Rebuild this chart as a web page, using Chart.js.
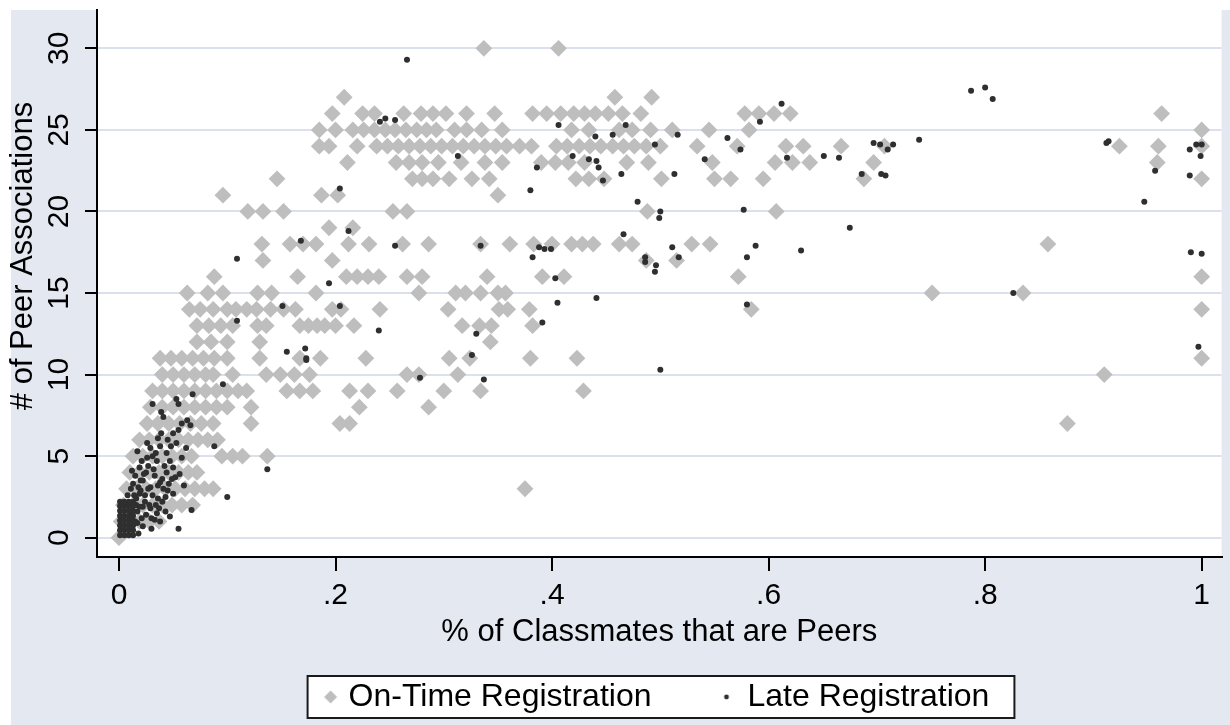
<!DOCTYPE html>
<html>
<head>
<meta charset="utf-8">
<script src="https://cdn.jsdelivr.net/npm/chart.js@4/dist/chart.umd.min.js"></script>
<style>
  html, body { margin: 0; padding: 0; background: #ffffff; }
  #wrap { position: absolute; left: 0; top: 0; width: 1230px; height: 725px; }
</style>
</head>
<body>
<div id="wrap"><canvas id="chart" width="1230" height="725"></canvas></div>
<script>
// ---------------- data ----------------
const xTicks = [0, 0.2, 0.4, 0.6, 0.8, 1];
const xTickLabels = ['0', '.2', '.4', '.6', '.8', '1'];
const yTicks = [0, 5, 10, 15, 20, 25, 30];
const seriesNames = ['On-Time Registration', 'Late Registration'];
const xTitle = '% of Classmates that are Peers';
const yTitle = '# of Peer Associations';

// On-time registration: [share of classmates, # peer associations]
const onTime = [
  [.337,30],[.406,30],
  [.208,27],[.458,27],[.492,27],
  [.197,26],[.225,26],[.236,26],[.263,26],[.279,26],[.29,26],[.302,26],[.321,26],[.347,26],[.382,26],[.395,26],[.408,26],[.42,26],[.43,26],[.44,26],[.452,26],[.465,26],[.482,26],[.578,26],[.591,26],[.605,26],[.62,26],[.963,26],
  [.185,25],[.2,25],[.216,25],[.226,25],[.236,25],[.246,25],[.255,25],[.265,25],[.275,25],[.284,25],[.293,25],[.31,25],[.321,25],[.335,25],[.354,25],[.418,25],[.434,25],[.462,25],[.474,25],[.491,25],[.511,25],[.545,25],[.582,25],[1.0,25],
  [.185,24],[.194,24],[.22,24],[.238,24],[.248,24],[.258,24],[.268,24],[.278,24],[.288,24],[.298,24],[.308,24],[.318,24],[.328,24],[.338,24],[.348,24],[.358,24],[.37,24],[.381,24],[.404,24],[.414,24],[.425,24],[.435,24],[.445,24],[.456,24],[.466,24],[.476,24],[.487,24],[.5,24],[.534,24],[.571,24],[.616,24],[.632,24],[.667,24],[.707,24],[.924,24],[.96,24],[1.0,24],
  [.211,23],[.256,23],[.268,23],[.28,23],[.295,23],[.316,23],[.338,23],[.354,23],[.39,23],[.403,23],[.415,23],[.43,23],[.469,23],[.489,23],[.548,23],[.606,23],[.622,23],[.638,23],[.697,23],[.959,23],
  [.146,22],[.271,22],[.28,22],[.29,22],[.305,22],[.326,22],[.342,22],[.422,22],[.434,22],[.448,22],[.501,22],[.55,22],[.565,22],[.595,22],[.688,22],[1.0,22],
  [.096,21],[.187,21],[.202,21],[.35,21],
  [.119,20],[.133,20],[.152,20],[.253,20],[.266,20],[.488,20],[.607,20],
  [.194,19],[.216,19],
  [.132,18],[.158,18],[.17,18],[.182,18],[.212,18],[.231,18],[.262,18],[.286,18],[.334,18],[.361,18],[.383,18],[.4,18],[.418,18],[.428,18],[.438,18],[.462,18],[.474,18],[.529,18],[.546,18],[.858,18],
  [.133,17],[.197,17],[.487,17],[.515,17],
  [.088,16],[.165,16],[.21,16],[.22,16],[.23,16],[.24,16],[.266,16],[.28,16],[.34,16],[.391,16],[.411,16],[.572,16],[1.0,16],
  [.063,15],[.082,15],[.096,15],[.128,15],[.141,15],[.182,15],[.277,15],[.311,15],[.32,15],[.334,15],[.35,15],[.357,15],[.751,15],[.835,15],
  [.065,14],[.075,14],[.087,14],[.1,14],[.108,14],[.118,14],[.127,14],[.14,14],[.152,14],[.163,14],[.197,14],[.205,14],[.241,14],[.304,14],[.351,14],[.359,14],[.379,14],[.584,14],[1.0,14],
  [.072,13],[.083,13],[.094,13],[.105,13],[.128,13],[.136,13],[.167,13],[.175,13],[.183,13],[.19,13],[.2,13],[.217,13],[.317,13],[.333,13],[.344,13],[.382,13],
  [.072,12],[.085,12],[.1,12],[.13,12],[.343,12],
  [.038,11],[.048,11],[.058,11],[.068,11],[.078,11],[.088,11],[.1,11],[.13,11],[.167,11],[.186,11],[.228,11],[.305,11],[.324,11],[.38,11],[.423,11],[1.0,11],
  [.04,10],[.05,10],[.06,10],[.07,10],[.08,10],[.087,10],[.105,10],[.136,10],[.149,10],[.162,10],[.176,10],[.266,10],[.277,10],[.313,10],[.91,10],
  [.031,9],[.04,9],[.05,9],[.06,9],[.07,9],[.08,9],[.09,9],[.1,9],[.11,9],[.118,9],[.155,9],[.167,9],[.179,9],[.213,9],[.23,9],[.257,9],[.3,9],[.334,9],[.429,9],
  [.029,8],[.04,8],[.05,8],[.06,8],[.07,8],[.08,8],[.09,8],[.1,8],[.122,8],[.222,8],[.286,8],
  [.026,7],[.036,7],[.046,7],[.056,7],[.066,7],[.076,7],[.087,7],[.122,7],[.204,7],[.213,7],[.876,7],
  [.019,6],[.028,6],[.037,6],[.046,6],[.055,6],[.064,6],[.073,6],[.082,6],[.091,6],
  [.013,5],[.022,5],[.031,5],[.04,5],[.049,5],[.058,5],[.067,5],[.095,5],[.105,5],[.114,5],[.137,5],
  [.01,4],[.019,4],[.028,4],[.037,4],[.046,4],[.055,4],[.064,4],[.072,4],
  [.007,3],[.016,3],[.025,3],[.034,3],[.043,3],[.052,3],[.061,3],[.07,3],[.079,3],[.087,3],[.375,3],
  [.004,2],[.013,2],[.022,2],[.031,2],[.04,2],[.049,2],[.058,2],[.068,2],
  [.002,1],[.01,1],[.019,1],[.028,1],[.037,1],
  [0,0]
];

// Late registration: [share of classmates, # peer associations]
const late = [
  [.266,29.3],[.241,25.5],[.246,25.7],[.255,25.6],[.204,21.4],[.212,18.8],[.168,18.2],[.255,17.9],[.109,17.1],[.194,15.6],
  [.406,25.3],[.468,25.3],[.44,24.6],[.456,24.7],[.495,24.1],[.516,24.7],[.313,23.4],[.419,23.4],[.434,23.2],[.441,23.1],
  [.443,22.7],[.386,22.7],[.447,21.9],[.464,22.3],[.513,22.3],[.38,21.3],[.479,20.6],[.5,20.0],[.499,19.6],[.466,18.6],
  [.334,17.9],[.388,17.8],[.393,17.7],[.399,17.7],[.382,17.2],[.511,17.8],[.486,17.2],[.486,16.9],[.496,16.7],[.495,16.3],
  [.517,17.2],[.403,15.9],[.441,14.7],[.405,14.4],[.204,14.2],[.24,12.7],[.391,13.2],[.33,12.5],[.172,11.6],[.173,11.0],
  [.173,10.9],[.326,11.2],[.278,9.8],[.337,9.7],[.5,10.3],
  [.612,26.6],[.592,25.5],[.562,24.5],[.574,23.8],[.541,23.2],[.617,23.3],[.651,23.4],[.665,23.3],[.697,24.2],[.703,24.1],
  [.715,24.1],[.71,23.8],[.686,22.3],[.704,22.3],[.708,22.2],[.739,24.4],[.787,27.4],[.8,27.6],[.807,26.9],[.912,24.2],
  [.914,24.3],[.947,20.6],[.957,22.5],[.989,23.8],[.995,24.1],[1.0,24.1],[.999,23.4],[.989,22.2],[.577,20.1],[.675,19.0],
  [.58,17.2],[.588,17.9],[.63,17.6],[.826,15.0],[.58,14.3],[.99,17.5],[1.0,17.4],[.997,11.7],
  [.109,13.3],[.151,14.2],[.155,11.4],[.137,4.2],[.1,2.5],
  [.096,9.4],[.068,8.8],[.031,8.2],[.053,8.5],[.055,8.2],[.039,7.7],[.041,7.4],[.063,7.2],[.066,6.9],[.05,6.4],
  [.039,6.4],[.036,6.1],[.088,5.6],[.062,5.5],[.017,5.3],[.029,5.5],[.031,5.0],[.035,4.7],[.044,5.2],[.047,4.7],
  [.021,4.7],[.019,4.3],[.012,4.1],[.05,4.3],[.052,3.7],[.056,3.9],[.049,3.6],[.045,2.9],[.05,2.7],[.067,1.7],
  [.047,1.3],[.055,0.55],[.03,1.2],[.022,0.7],[.03,0.55],[.018,0.25],
  [.013,3.3],[.022,3.5],[.029,3.1],[.031,2.6],[.019,2.7],[.036,2.4],[.022,1.9],[.017,1.6],[.029,1.8],[.035,1.5],
  [.025,4.0],[.027,3.0],[.033,3.8],[.038,3.4],[.04,2.2],[.042,4.4],[.024,2.2],[.034,2.0],[.043,1.6],[.026,5.8],
  [.045,6.0],[.058,4.9],[.06,3.2],[.015,3.8],[.02,2.9],[.016,2.0],[.025,1.4],[.038,1.0],[.012,1.6],[.041,3.0],
  [.014,2.6],[.018,3.1],[.023,3.9],[.027,4.4],[.032,4.2],[.036,3.2],[.04,3.6],[.044,4.0],[.046,3.3],[.024,2.6],
  [.028,2.0],[.033,1.1],[.037,1.8],[.043,2.5],[.048,5.6],[.053,5.8],[.055,6.6],[.058,7.0],[.034,5.2],[.038,5.6],
  [.026,4.9],[.02,3.5],[.011,3.0],[.015,1.0],[.019,1.9],
  [.001,0.15],[.005,0.15],[.009,0.15],[.013,0.15],[.001,0.45],[.005,0.45],[.009,0.45],[.013,0.45],
  [.001,0.75],[.005,0.75],[.009,0.75],[.013,0.75],[.001,1.05],[.005,1.05],[.009,1.05],[.013,1.05],
  [.001,1.35],[.005,1.35],[.009,1.35],[.013,1.35],[.001,1.65],[.005,1.65],[.009,1.65],[.013,1.65],
  [.001,1.95],[.005,1.95],[.009,1.95],[.013,1.95],[.001,2.2],[.005,2.2],[.009,2.2],[.013,2.2],
  [.017,0.9],[.021,1.2],[.016,2.4],[.008,2.6]
];

// ---------------- styling / layout ----------------
const FONT = "'Liberation Sans', Arial, Helvetica, sans-serif";
const GRAPH_BG = '#E3E8F1';
const GRID = '#DAE1ED';
const ONTIME_COLOR = '#BEBEBE';
const LATE_COLOR = '#2F2F2F';
const PAD = { left: 43, right: 5, top: 10, bottom: 2 };
const Y_AXIS_W = 54;     // 43 + 54 = 97 -> plot left
const X_AXIS_H = 98;     // 557 -> 655
const LEG_FONT = 32;
const LEG_PAD = 26;
const LEG_BOX = 54;

function legendMarker(kind) {
  const c = document.createElement('canvas');
  c.width = LEG_BOX + 40;
  c.height = 20;
  const g = c.getContext('2d');
  if (kind === 'diamond') {
    const cx = LEG_BOX + 20 + LEG_FONT / 2 - 18, cy = 10, r = 6.5;
    g.fillStyle = ONTIME_COLOR;
    g.beginPath();
    g.moveTo(cx - r, cy); g.lineTo(cx, cy - r); g.lineTo(cx + r, cy); g.lineTo(cx, cy + r);
    g.closePath(); g.fill();
  } else {
    g.fillStyle = LATE_COLOR;
    g.beginPath();
    g.arc(LEG_BOX + 20 + LEG_FONT / 2 - 21, 10, 2.4, 0, Math.PI * 2);
    g.fill();
  }
  return c;
}
const legendMarkers = [legendMarker('diamond'), legendMarker('dot')];

const stataFrame = {
  id: 'stataFrame',
  beforeDraw(chart) {
    const { ctx, chartArea: a } = chart;
    ctx.save();
    ctx.fillStyle = '#ffffff';
    ctx.fillRect(0, 0, chart.width, chart.height);
    ctx.fillStyle = GRAPH_BG;
    ctx.fillRect(11, 10, chart.width - 11, chart.height - 10);
    ctx.fillStyle = '#ffffff';
    ctx.fillRect(a.left, a.top, a.right - a.left, a.bottom - a.top);
    // legend frame
    const lg = chart.legend;
    if (lg && lg.lineWidths) {
      const startX = (lg.left + LEG_PAD + lg.right - lg.lineWidths[0]) / 2;
      const text1 = startX + LEG_BOX + LEG_FONT / 2;
      const left = text1 - 18 - 23;
      const right = startX + lg.lineWidths[0] - LEG_PAD + 25;
      const cy = lg.top + LEG_PAD + LEG_FONT / 2;
      ctx.fillStyle = '#ffffff';
      ctx.fillRect(left, cy - 21, right - left, 42);
      ctx.strokeStyle = '#1a1a1a';
      ctx.lineWidth = 2;
      ctx.strokeRect(left, cy - 21, right - left, 42);
    }
    ctx.restore();
  },
  afterDraw(chart) {
    const ctx = chart.ctx;
    ctx.save();
    ctx.translate(23, 256);
    ctx.rotate(-Math.PI / 2);
    ctx.font = '31px ' + FONT;
    ctx.fillStyle = '#000';
    ctx.textAlign = 'center';
    ctx.textBaseline = 'middle';
    ctx.fillText(yTitle, 0, 0);
    ctx.restore();
  }
};

const ctx = document.getElementById('chart').getContext('2d');
new Chart(ctx, {
  type: 'scatter',
  data: {
    datasets: [
      {
        label: seriesNames[0],
        data: onTime.map(([x, y]) => ({ x, y })),
        pointStyle: 'rectRot',
        pointRadius: 8.4,
        backgroundColor: ONTIME_COLOR,
        borderColor: ONTIME_COLOR,
        borderWidth: 0,
        order: 1
      },
      {
        label: seriesNames[1],
        data: late.map(([x, y]) => ({ x, y })),
        pointStyle: 'circle',
        pointRadius: 3,
        backgroundColor: LATE_COLOR,
        borderColor: LATE_COLOR,
        borderWidth: 0,
        order: 0
      }
    ]
  },
  options: {
    responsive: false,
    animation: false,
    events: [],
    layout: { padding: PAD },
    scales: {
      x: {
        type: 'linear',
        min: -0.0203,
        max: 1.0184,
        afterBuildTicks: (s) => { s.ticks = xTicks.map(v => ({ value: v })); },
        afterFit: (s) => { s.height = X_AXIS_H; s.paddingLeft = 0; s.paddingRight = 0; s.paddingTop = 0; s.paddingBottom = 0; },
        ticks: {
          autoSkip: false, maxRotation: 0, minRotation: 0, padding: 6.5,
          color: '#000', font: { family: FONT, size: 30 },
          callback: (v, i) => xTickLabels[i]
        },
        grid: {
          display: true, drawOnChartArea: false, drawTicks: true,
          tickLength: 14, tickColor: '#000', tickWidth: 2, color: 'rgba(0,0,0,0)', lineWidth: 2
        },
        border: { display: true, color: '#000', width: 2 },
        title: {
          display: true, text: xTitle, color: '#000',
          font: { family: FONT, size: 31 },
          padding: { top: 0, bottom: 4.4 }
        }
      },
      y: {
        type: 'linear',
        min: -1.183,
        max: 32.35,
        afterBuildTicks: (s) => { s.ticks = yTicks.map(v => ({ value: v })); },
        afterFit: (s) => { s.width = Y_AXIS_W; s.paddingLeft = 0; s.paddingRight = 0; s.paddingTop = 0; s.paddingBottom = 0; },
        ticks: {
          autoSkip: false, minRotation: 90, maxRotation: 90, crossAlign: 'center', padding: 8.3,
          color: '#000', font: { family: FONT, size: 30 },
          callback: (v) => String(v)
        },
        grid: {
          display: true, drawOnChartArea: true, drawTicks: true,
          tickLength: 12, tickColor: '#000', tickWidth: 2, color: GRID, lineWidth: 2
        },
        border: { display: true, color: '#000', width: 2 },
        title: { display: false }
      }
    },
    plugins: {
      tooltip: { enabled: false },
      title: { display: false },
      legend: {
        display: true,
        position: 'bottom',
        fullSize: true,
        align: 'center',
        labels: {
          font: { family: FONT, size: LEG_FONT },
          color: '#000',
          usePointStyle: true,
          pointStyleWidth: LEG_BOX,
          padding: LEG_PAD,
          generateLabels: (chart) => chart.data.datasets.map((ds, i) => ({
            text: ds.label,
            pointStyle: legendMarkers[i],
            fillStyle: ds.backgroundColor,
            strokeStyle: ds.backgroundColor,
            lineWidth: 0,
            hidden: false,
            datasetIndex: i,
            fontColor: '#000'
          }))
        }
      }
    }
  },
  plugins: [stataFrame]
});
</script>
</body>
</html>
